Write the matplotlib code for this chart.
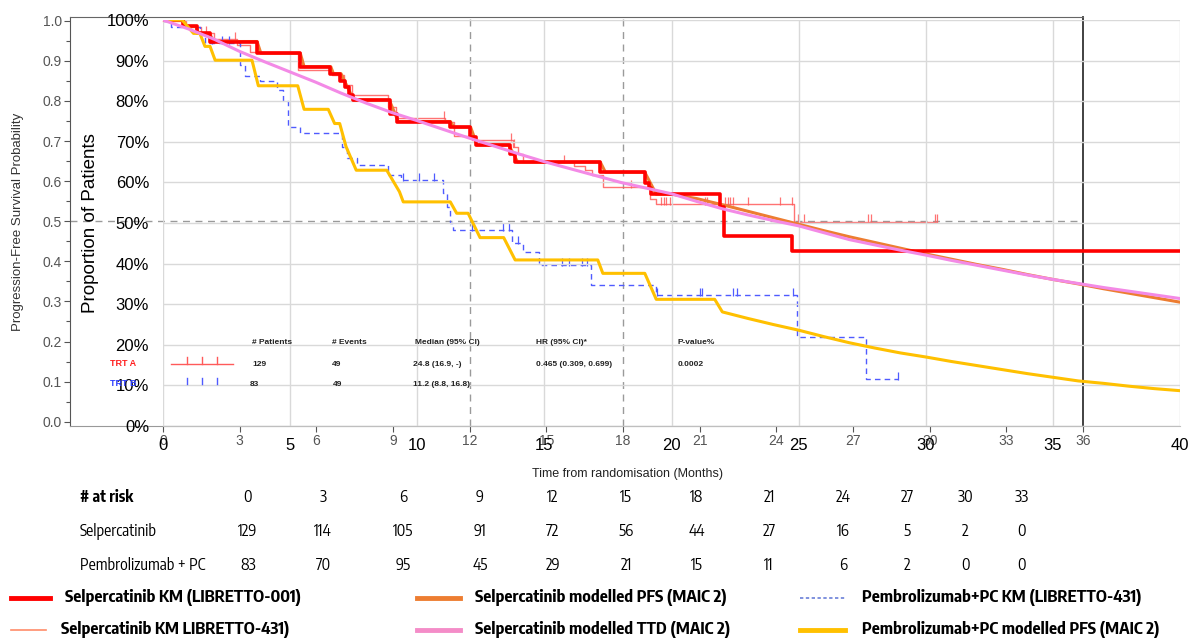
import numpy as np
import matplotlib
matplotlib.use('Agg')
import matplotlib.pyplot as plt
from matplotlib.lines import Line2D
from matplotlib import font_manager

W, H = 1191, 639

# Selpercatinib KM (LIBRETTO-001), months / proportion
red_t = [0, 0.8, 1.33, 1.85, 3.7, 5.4, 6.57, 6.96, 7.15, 7.3, 7.47, 8.93, 9.2, 11.3, 12.07, 12.3, 13.65, 13.85,
         17.2, 18.95, 19.1, 19.2, 21.9, 22.05, 24.73, 40]
red_p = [1.0, 0.984, 0.967, 0.947, 0.918, 0.885, 0.868, 0.85, 0.835, 0.815, 0.803, 0.768, 0.75, 0.736, 0.713, 0.692,
         0.67, 0.65, 0.625, 0.598, 0.585, 0.571, 0.54, 0.468, 0.431, 0.431]

# Selpercatinib modelled PFS (MAIC 2)
orange_t = [0, 0.8, 0.9, 1.3, 1.4, 1.85, 1.95, 3.7, 3.85, 5.4, 5.55, 6.6, 6.7, 7.0, 7.5, 8.9, 9.25, 11.3, 11.45,
            12.1, 12.35, 13.6, 13.95, 17.2, 17.4, 18.95, 19.4, 20, 21, 22, 23, 24, 25, 26, 27, 28, 29, 30, 31, 32,
            33, 34, 35, 36, 37, 38, 39, 40]
orange_p = [1.0, 1.0, 0.984, 0.984, 0.967, 0.967, 0.947, 0.947, 0.918, 0.918, 0.885, 0.885, 0.868, 0.868, 0.803,
            0.803, 0.75, 0.75, 0.736, 0.736, 0.692, 0.692, 0.65, 0.65, 0.625, 0.625, 0.571, 0.571, 0.56, 0.545,
            0.529, 0.513, 0.497, 0.481, 0.466, 0.452, 0.438, 0.424, 0.411, 0.398, 0.386, 0.373, 0.361, 0.35, 0.338,
            0.327, 0.316, 0.305]

# Selpercatinib modelled TTD (MAIC 2)
pink_t = list(range(0, 41))
pink_p = [1.0, 0.978, 0.953, 0.923, 0.897, 0.872, 0.847, 0.82, 0.795, 0.772, 0.752, 0.731, 0.71, 0.69, 0.67, 0.651,
          0.634, 0.617, 0.6, 0.586, 0.572, 0.553, 0.535, 0.52, 0.506, 0.493, 0.476, 0.459, 0.446, 0.433, 0.421,
          0.408, 0.396, 0.384, 0.372, 0.361, 0.351, 0.341, 0.332, 0.323, 0.314]

# Pembrolizumab+PC modelled PFS (MAIC 2)
gold_t = [0, 0.75, 1.2, 1.45, 1.65, 1.85, 2.05, 3.5, 3.75, 5.3, 5.55, 6.5, 6.75, 6.95, 7.2, 7.6, 8.8, 9.3, 9.45,
          11.3, 11.55, 12.0, 12.47, 13.4, 13.85, 17.1, 17.3, 18.95, 19.4, 21.7, 22.0, 23, 24, 25, 26, 27, 28, 29,
          30, 31, 32, 33, 34, 35, 36, 37, 38, 39, 40]
gold_p = [1.0, 1.0, 0.967, 0.967, 0.935, 0.935, 0.901, 0.901, 0.838, 0.838, 0.78, 0.78, 0.745, 0.745, 0.688, 0.63,
          0.63, 0.577, 0.552, 0.552, 0.524, 0.524, 0.464, 0.464, 0.409, 0.409, 0.376, 0.376, 0.312, 0.312, 0.281,
          0.265, 0.25, 0.236, 0.22, 0.205, 0.192, 0.18, 0.17, 0.159, 0.149, 0.139, 0.129, 0.12, 0.111, 0.105,
          0.098, 0.092, 0.087]

# SAS plot: TRT B (Pembrolizumab+PC KM, LIBRETTO-431)
blue_t = [0, 0.3, 1.45, 1.65, 3.0, 3.2, 3.8, 4.45, 4.7, 4.9, 5.35, 7.0, 7.2, 7.6, 8.8, 9.3, 10.95, 11.1, 11.25,
          11.35, 13.65, 14.1, 14.7, 16.75, 19.3, 24.8, 27.5, 28.75]
blue_s = [1.0, 0.985, 0.969, 0.944, 0.89, 0.862, 0.85, 0.827, 0.80, 0.735, 0.72, 0.685, 0.657, 0.64, 0.615, 0.603,
          0.57, 0.535, 0.495, 0.478, 0.445, 0.424, 0.39, 0.34, 0.316, 0.21, 0.107, 0.107]
blue_cens_t = [1.9, 2.3, 2.6, 9.4, 10.0, 10.6, 12.1, 13.3, 13.55, 13.9, 15.6, 15.9, 16.4, 16.6, 19.35, 21.0, 21.1,
               22.3, 22.45, 24.65, 28.75]

# SAS plot: TRT A (Selpercatinib KM, LIBRETTO-431)
salm_t = [0, 0.9, 1.5, 2.0, 2.9, 3.4, 5.3, 6.6, 7.1, 7.4, 8.8, 9.1, 11.05, 11.4, 12.1, 13.7, 13.9, 14.1, 16.1,
          16.5, 16.8, 17.2, 19.05, 19.3, 24.7, 30.3]
salm_s = [1.0, 0.985, 0.97, 0.955, 0.94, 0.922, 0.877, 0.864, 0.84, 0.815, 0.785, 0.757, 0.748, 0.712, 0.702,
          0.686, 0.668, 0.648, 0.638, 0.628, 0.615, 0.585, 0.555, 0.543, 0.499, 0.499]
salm_cens_t = [1.7, 2.8, 11.0, 13.6, 13.75, 15.7, 18.3, 19.5, 19.6, 19.7, 19.85, 21.2, 21.3, 22.0, 22.1, 22.2,
               22.3, 22.9, 24.15, 24.6, 24.85, 25.1, 27.6, 27.7, 30.2, 30.3]

# number at risk
risk_times = [0, 3, 6, 9, 12, 15, 18, 21, 24, 27, 30, 33]
risk_selp = [129, 114, 105, 91, 72, 56, 44, 27, 16, 5, 2, 0]
risk_pembro = [83, 70, 95, 45, 29, 21, 15, 11, 6, 2, 0, 0]
risk_x = [248, 323, 403, 480, 553, 626, 697, 769, 843, 907, 965, 1022]

# narrow font for the risk table and legend (Arial Narrow look-alike)
names = {f.name for f in font_manager.fontManager.ttflist}
narrow = 'Liberation Sans'
for cand in ['Liberation Sans Narrow', 'Arial Narrow', 'Encode Sans Condensed', 'Fira Sans Condensed',
             'Barlow Semi Condensed']:
    if cand in names:
        narrow = cand
        break
plt.rcParams['font.family'] = 'Liberation Sans'


def box(l, t, r, b):
    return [l / W, 1 - b / H, (r - l) / W, (b - t) / H]


def fx(x):
    return x / W


def fy(y):
    return 1 - y / H


def step_pts(t, s):
    # expand a KM step function into drawable points
    xs, ys = [t[0]], [s[0]]
    for i in range(1, len(t)):
        xs += [t[i], t[i]]
        ys += [s[i - 1], s[i]]
    return xs, ys


def step_at(t, s, x):
    i = np.searchsorted(t, x, side='right') - 1
    return s[max(i, 0)]


def fit_size(text, target_px, bold=False, family=None):
    # font size that makes `text` about target_px wide
    t = fig.text(0, 0, text, fontsize=10, weight='bold' if bold else 'normal', family=family)
    w = t.get_window_extent(renderer=fig.canvas.get_renderer()).width
    t.remove()
    return 10 * target_px / w


fig = plt.figure(figsize=(W / 100, H / 100), dpi=100)

# ---- underlying SAS plot ----
ax2 = fig.add_axes(box(70, 17.3, 1083, 426))
ax2.set_xlim(-93 / 25.556, 36)
ax2.set_ylim(-0.0107, 1.0085)
ax2.set_xticks(range(0, 37, 3))
ax2.set_yticks(np.arange(0, 1.01, 0.1))
ax2.set_yticklabels([f'{v:.1f}' for v in np.arange(0, 1.01, 0.1)])
ax2.set_yticks(np.arange(0.05, 1, 0.1), minor=True)
ax2.tick_params(axis='both', colors='#555555', labelcolor='#555555', labelsize=10, length=4, width=0.8, pad=2)
ax2.tick_params(axis='y', which='minor', colors='#555555', length=3, width=0.8)
ax2.spines['left'].set_color('#555555')
ax2.spines['top'].set_color('#666666')
ax2.spines['right'].set_color('#333333')
ax2.spines['right'].set_linewidth(1.3)
ax2.spines['bottom'].set_color('#999999')
ax2.set_ylabel('Progression-Free Survival Probability', fontsize=9.5, color='#333333')
ax2.yaxis.set_label_coords(-(70 - 24) / 1013, 0.5)
ax2.set_xlabel('Time from randomisation (Months)', fontsize=9, color='#222222')
ax2.xaxis.set_label_coords((627 - 70) / 1013, -(468 - 426) / 409)

for x in (12, 18):
    ax2.axvline(x, color='#9a9a9a', lw=1, ls=(0, (5, 4)), zorder=1)
ax2.plot([ax2.get_xlim()[0], 36], [0.5, 0.5], color='#9a9a9a', lw=1, ls=(0, (5, 4)), zorder=1)

xs, ys = step_pts(salm_t, salm_s)
ax2.plot(xs, ys, color='#ff5a5a', lw=1.0, alpha=0.85, zorder=2)
ax2.plot(salm_cens_t, [step_at(salm_t, salm_s, x) + 0.008 for x in salm_cens_t], ls='none', marker='|',
         ms=6, mew=0.9, color='#ff5a5a', alpha=0.85, zorder=2)
xs, ys = step_pts(blue_t, blue_s)
ax2.plot(xs, ys, color='#4f5bff', lw=1.0, ls=(0, (4, 3)), zorder=2)
ax2.plot(blue_cens_t, [step_at(blue_t, blue_s, x) + 0.008 for x in blue_cens_t], ls='none', marker='|',
         ms=6, mew=0.9, color='#4f5bff', zorder=2)

# SAS statistics inset
hdr = [(252, '# Patients'), (332, '# Events'), (415, 'Median (95% CI)'), (536, 'HR (95% CI)*'), (678, 'P-value%')]
for x, s in hdr:
    fig.text(fx(x), fy(343), s, fontsize=6, weight='bold', va='center', color='#222222')
rowA = [(252, '129'), (332, '49'), (413, '24.8 (16.9, -)'), (536, '0.465 (0.309, 0.699)'), (678, '0.0002')]
for x, s in rowA:
    fig.text(fx(x), fy(364), s, fontsize=6, weight='bold', va='center', color='#222222')
rowB = [(250, '83'), (333, '49'), (413, '11.2 (8.8, 16.8)')]
for x, s in rowB:
    fig.text(fx(x), fy(384), s, fontsize=6, weight='bold', va='center', color='#222222')
fig.text(fx(110), fy(364), 'TRT A', fontsize=6.5, weight='bold', color='#ff2020', va='center')
fig.text(fx(110), fy(384), 'TRT B', fontsize=6.5, weight='bold', color='#3040ff', va='center')
fig.add_artist(Line2D([fx(171), fx(233)], [fy(364), fy(364)], color='#ff5a5a', lw=1))
for x in (187, 202, 217):
    fig.add_artist(Line2D([fx(x), fx(x)], [fy(364), fy(357)], color='#ff5a5a', lw=1))
    fig.add_artist(Line2D([fx(x), fx(x)], [fy(384), fy(378)], color='#4f5bff', lw=1))

# ---- overlaid Excel chart ----
ax = fig.add_axes(box(163, 20, 1180, 426))
ax.patch.set_alpha(0)
ax.set_xlim(0, 40)
ax.set_ylim(0, 1)
ax.set_xticks(range(0, 41, 5))
ax.set_yticks(np.arange(0, 1.01, 0.1))
ax.set_yticklabels([f'{int(round(v * 100))}%' for v in np.arange(0, 1.01, 0.1)])
ax.tick_params(length=0, labelsize=12, colors='black')
ax.tick_params(axis='y', pad=10)
ax.tick_params(axis='x', pad=9)
ax.grid(color='#d9d9d9', lw=1)
for sp in ('left', 'top', 'right'):
    ax.spines[sp].set_visible(False)
ax.spines['bottom'].set_color('#bfbfbf')
ax.set_ylabel('Proportion of Patients', fontsize=13.5)
ax.yaxis.set_label_coords(-(163 - 99) / 1017, (426 - 223) / 406)

ax.plot(orange_t, orange_p, color='#ed7d31', lw=2.2, zorder=3)
ax.step(red_t, red_p, where='post', color='#ff0000', lw=2.6, zorder=4)
ax.plot(gold_t, gold_p, color='#ffc000', lw=2.2, zorder=4)
ax.plot(pink_t, pink_p, color='#f38ae6', lw=2.2, zorder=5)

# ---- number at risk ----
rs = fit_size('Pembrolizumab + PC', 125, family=narrow)
fig.text(fx(80), fy(497), '# at risk', fontsize=rs, weight='bold', family=narrow, va='center')
fig.text(fx(80), fy(531), 'Selpercatinib', fontsize=rs, family=narrow, va='center')
fig.text(fx(80), fy(566), 'Pembrolizumab + PC', fontsize=rs, family=narrow, va='center')
for x, t, a, b in zip(risk_x, risk_times, risk_selp, risk_pembro):
    fig.text(fx(x), fy(497), str(t), fontsize=rs, family=narrow, ha='center', va='center')
    fig.text(fx(x), fy(531), str(a), fontsize=rs, family=narrow, ha='center', va='center')
    fig.text(fx(x), fy(566), str(b), fontsize=rs, family=narrow, ha='center', va='center')

# ---- legend ----
ls_ = fit_size('Selpercatinib KM (LIBRETTO-001)', 235, bold=True, family=narrow)
legend_items = [
    (11, 50, 65, 598, 'Selpercatinib KM (LIBRETTO-001)', dict(color='#ff0000', lw=3.5)),
    (417, 460, 475, 598, 'Selpercatinib modelled PFS (MAIC 2)', dict(color='#ed7d31', lw=3.5)),
    (800, 845, 862, 598, 'Pembrolizumab+PC KM (LIBRETTO-431)', dict(color='#6a7fd8', lw=1.2, ls=(0, (2, 1.5)))),
    (11, 46, 61, 630, 'Selpercatinib KM LIBRETTO-431)', dict(color='#ff8c69', lw=1.2)),
    (417, 460, 475, 630, 'Selpercatinib modelled TTD (MAIC 2)', dict(color='#f48cc8', lw=3.5)),
    (800, 845, 862, 630, 'Pembrolizumab+PC modelled PFS (MAIC 2)', dict(color='#ffc000', lw=3.5)),
]
for x0, x1, xt, y, label, style in legend_items:
    fig.add_artist(Line2D([fx(x0), fx(x1)], [fy(y), fy(y)], **style))
    fig.text(fx(xt), fy(y), label, fontsize=ls_, weight='bold', family=narrow, va='center')

fig.savefig('out.png', dpi=100)
